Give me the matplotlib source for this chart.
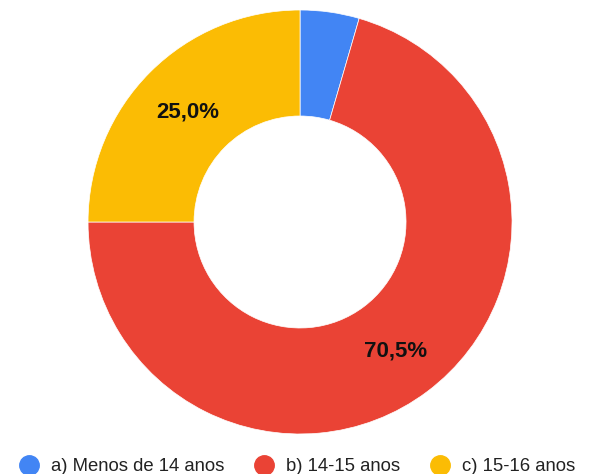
import matplotlib.pyplot as plt
import numpy as np
from matplotlib.lines import Line2D

plt.rcParams['font.family'] = ['Liberation Sans', 'DejaVu Sans']

labels = ["a) Menos de 14 anos", "b) 14-15 anos", "c) 15-16 anos"]
values = [4.5, 70.5, 25.0]
colors = ["#4285F4", "#EA4335", "#FBBC04"]
pct_text = ["", "70,5%", "25,0%"]

fig = plt.figure(figsize=(5.89, 4.74), dpi=100)
ax = fig.add_axes([0.1494, 0.0844, 0.72, 0.8945])
ax.set_aspect("equal")

wedges, _ = ax.pie(values, colors=colors, startangle=90, counterclock=False,
                   radius=1.0, wedgeprops=dict(width=0.5, edgecolor="white", linewidth=0.5))

# etiquettes au milieu de l'anneau
ang = 90.0
for v, t in zip(values, pct_text):
    mid = ang - v / 100 * 360 / 2
    ang -= v / 100 * 360
    if t:
        ax.text(0.75 * np.cos(np.radians(mid)), 0.75 * np.sin(np.radians(mid)) - 0.01, t,
                ha="center", va="center", fontsize=16, fontweight="bold", color="#111111")

ax.set_xlim(-1, 1)
ax.set_ylim(-1, 1)

handles = [Line2D([], [], marker="o", linestyle="", markersize=14, color=c) for c in colors]
fig.legend(handles, labels, loc="lower center", bbox_to_anchor=(0.505, -0.038), ncol=3,
           frameon=False, fontsize=13.3, handletextpad=0.7, columnspacing=1.65,
           handlelength=1.0, labelcolor="#222222")

fig.savefig("out.png", dpi=100)
